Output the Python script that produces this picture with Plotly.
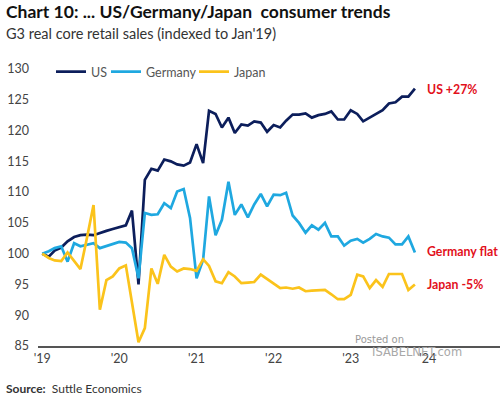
import plotly.graph_objects as go
import pandas as pd

months = pd.date_range("2019-01-01", "2023-11-01", freq="MS").strftime("%Y-%m-%d").tolist()

us = [100, 99.5, 100.5, 101, 102, 102.7, 103, 103.1, 103, 103.4, 103.7, 104,
      104.3, 104.6, 107, 95, 112, 113.8, 113.5, 115.3, 115, 114.5, 114.3, 114.8,
      117.8, 114.7, 123.2, 122.7, 120.5, 122.1, 119.6, 121, 120.8, 121.5, 121.3, 119.8,
      120.9, 120.5, 121.6, 122.6, 122.6, 122.8, 122.1, 122.5, 122.7, 123.1, 121.8, 121.8,
      123.3, 122.7, 121.5, 122.1, 122.8, 123.3, 124.4, 124.6, 125.5, 125.5, 126.8]

germany = [100, 100.4, 100.9, 101.2, 98.7, 101.7, 101.2, 101.4, 101.7, 100.9, 101.2, 101.6,
           101.9, 101.8, 100.9, 96, 106.6, 106.3, 106.4, 108.2, 107.4, 110.1, 110.5, 105.8,
           96, 99, 109.3, 103, 105.5, 111.7, 106.3, 108, 105.9, 108, 109.7, 107.7,
           109.6, 109.5, 109.9, 106.2, 105, 103.4, 104.6, 103.9, 105, 102.8, 102.8, 101.3,
           102.1, 102.4, 101.8, 102.4, 103.2, 102.8, 102.6, 101.5, 101.5, 102.8, 100.2]

japan = [100, 99.3, 98.9, 98.8, 100.2, 98.9, 97.5, 102.6, 107.9, 90.9, 95.7, 96.3,
         97.6, 98.1, 92, 85.6, 87.9, 97.6, 95.1, 99.8, 97.9, 97.1, 97.6, 97.5,
         97.2, 99.1, 98, 95.5, 95.2, 97, 96.3, 95.2, 95.3, 95.4, 96.6, 95.9,
         95.2, 94.4, 94.5, 94.3, 94.5, 93.9, 94, 94, 94.1, 93.4, 92.6, 92.6,
         93.3, 96.6, 96.3, 94.4, 95.7, 94.6, 96.7, 96.7, 96.7, 94.1, 95]

series_names = ["US", "Germany", "Japan"]
series_colors = ["#0c1e5b", "#1fa8e0", "#fbc31b"]
end_labels = ["US +27%", "Germany flat", "Japan -5%"]
end_label_y = [126.7, 100.3, 95.0]

year_ticks = ["2019-01-01", "2020-01-01", "2021-01-01", "2022-01-01", "2023-01-01", "2024-01-01"]
year_text = ["'19", "'20", "'21", "'22", "'23", "'24"]
y_ticks = [85, 90, 95, 100, 105, 110, 115, 120, 125, 130]

W, H = 500, 399
L, R, T, B = 38, 0, 69, 53
pw, ph = W - L - R, H - T - B


def px(xp):
    return (xp - L) / pw


def py(yp):
    return 1 - (yp - T) / ph


FONT = "Lato"
legend_keys = ["legend", "legend2", "legend3"]
legend_x = [51, 106, 194]

fig = go.Figure()
for name, vals, col, lk in zip(series_names, [us, germany, japan], series_colors, legend_keys):
    fig.add_trace(go.Scatter(x=months, y=vals, mode="lines", name=name, legend=lk,
                             line=dict(color=col, width=2.7)))

annotations = [
    dict(text="<b>Chart 10: ... US/Germany/Japan  consumer trends</b>", x=px(4), y=py(12),
         font=dict(size=17.5, color="#111111", family=FONT)),
    dict(text="G3 real core retail sales (indexed to Jan'19)", x=px(4), y=py(34),
         font=dict(size=14.5, color="#333333", family=FONT)),
    dict(text="<b>Source:</b>  Suttle Economics", x=px(4), y=py(388),
         font=dict(size=12, color="#333333", family=FONT)),
    dict(text="Posted on", x=px(353), y=py(339),
         font=dict(size=10, color="#9a9a9a", family="DejaVu Sans")),
    dict(text="ISABELNET.com", x=px(370), y=py(352),
         font=dict(size=11.5, color="#a8a8a8", family="DejaVu Sans")),
]
for a in annotations:
    a.update(xref="paper", yref="paper", xanchor="left", yanchor="middle",
             showarrow=False)

for lab, yv in zip(end_labels, end_label_y):
    annotations.append(dict(text="<b>" + lab + "</b>", xref="paper", yref="y",
                            x=px(425), y=yv, xanchor="left", yanchor="middle",
                            showarrow=False,
                            font=dict(size=12.3, color="#e2101b", family=FONT)))

layout_legends = {}
for lk, lx in zip(legend_keys, legend_x):
    layout_legends[lk] = dict(orientation="h", x=px(lx), y=py(72), xanchor="left",
                              yanchor="middle",
                              font=dict(size=12.5, color="#555555", family=FONT),
                              itemwidth=30, bgcolor="rgba(0,0,0,0)")

fig.update_layout(
    width=W, height=H,
    margin=dict(l=L, r=R, t=T, b=B, pad=0),
    paper_bgcolor="white", plot_bgcolor="white",
    showlegend=True,
    xaxis=dict(type="date", range=["2018-12-12", "2024-12-08"],
               tickvals=year_ticks, ticktext=year_text,
               showgrid=False, zeroline=False, showline=True,
               linecolor="#555555", linewidth=1.5, ticks="",
               tickfont=dict(size=12.5, color="#444444", family=FONT)),
    yaxis=dict(range=[85, 130], tickvals=y_ticks, showgrid=False, zeroline=False,
               showline=False, ticks="", ticklabelstandoff=8,
               tickfont=dict(size=12.5, color="#444444", family=FONT)),
    annotations=annotations,
    **layout_legends,
)

fig.write_html("out.html", config={"displayModeBar": False},
               post_script="document.body.style.margin='0';")
